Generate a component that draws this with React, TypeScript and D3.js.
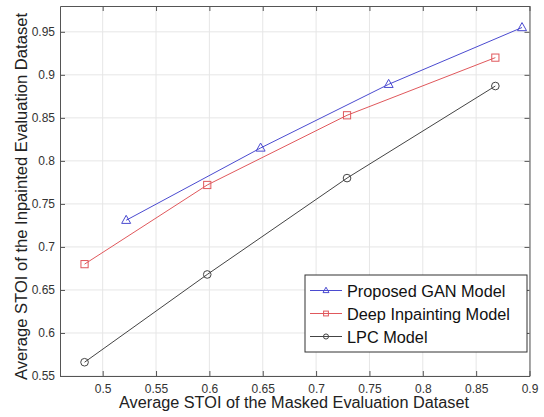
import React, { useEffect, useRef } from "react";
import * as d3 from "d3";

const seriesNames = ["Proposed GAN Model", "Deep Inpainting Model", "LPC Model"];
const seriesColors = ["#4b4bd0", "#e0585c", "#444444"];
const seriesMarkers = ["triangle", "square", "circle"];

const ganX = [0.522, 0.648, 0.768, 0.893];
const ganY = [0.731, 0.815, 0.889, 0.955];
const deepX = [0.483, 0.598, 0.729, 0.868];
const deepY = [0.680, 0.772, 0.853, 0.920];
const lpcX = [0.483, 0.598, 0.729, 0.868];
const lpcY = [0.566, 0.668, 0.780, 0.887];

const xTicks = [0.5, 0.55, 0.6, 0.65, 0.7, 0.75, 0.8, 0.85, 0.9];
const yTicks = [0.55, 0.6, 0.65, 0.7, 0.75, 0.8, 0.85, 0.9, 0.95];

const xLabel = "Average STOI of the Masked Evaluation Dataset";
const yLabel = "Average STOI of the Inpainted Evaluation Dataset";

const App = () => {
  const svgRef = useRef<SVGSVGElement>(null);
  const width = 544;
  const height = 417;

  useEffect(() => {
    const svg = d3.select(svgRef.current);
    svg.selectAll("*").remove();

    const left = 60, right = 529.5, top = 6, bottom = 376;
    const font = "'Liberation Sans', Arial, Helvetica, sans-serif";

    const x = d3.scaleLinear().domain([0.46, 0.9]).range([left, right]);
    const y = d3.scaleLinear().domain([0.55, 0.98]).range([bottom, top]);

    svg.append("rect")
      .attr("x", left).attr("y", top)
      .attr("width", right - left).attr("height", bottom - top)
      .attr("fill", "#fff");

    // grid
    svg.append("g")
      .selectAll("line.gx")
      .data(xTicks)
      .join("line")
      .attr("x1", d => x(d)).attr("x2", d => x(d))
      .attr("y1", top).attr("y2", bottom)
      .attr("stroke", "#e6e6e6").attr("stroke-width", 1);
    svg.append("g")
      .selectAll("line.gy")
      .data(yTicks)
      .join("line")
      .attr("x1", left).attr("x2", right)
      .attr("y1", d => y(d)).attr("y2", d => y(d))
      .attr("stroke", "#e6e6e6").attr("stroke-width", 1);

    // axes, box with inner ticks
    const fmt = (d: number) => String(d);
    svg.append("g")
      .attr("transform", `translate(0,${bottom})`)
      .call(d3.axisBottom(x).tickValues(xTicks).tickFormat(fmt as any).tickSizeInner(-5).tickSizeOuter(0).tickPadding(8))
      .call(g => g.select(".domain").attr("stroke", "#555"))
      .call(g => g.selectAll(".tick line").attr("stroke", "#555"))
      .call(g => g.selectAll("text").attr("fill", "#333").style("font", `12px ${font}`));
    svg.append("g")
      .attr("transform", `translate(0,${top})`)
      .call(d3.axisTop(x).tickValues(xTicks).tickFormat(() => "").tickSizeInner(-5).tickSizeOuter(0))
      .call(g => g.select(".domain").attr("stroke", "#555"))
      .call(g => g.selectAll(".tick line").attr("stroke", "#555"));
    svg.append("g")
      .attr("transform", `translate(${left},0)`)
      .call(d3.axisLeft(y).tickValues(yTicks).tickFormat(fmt as any).tickSizeInner(-5).tickSizeOuter(0).tickPadding(5))
      .call(g => g.select(".domain").attr("stroke", "#555"))
      .call(g => g.selectAll(".tick line").attr("stroke", "#555"))
      .call(g => g.selectAll("text").attr("fill", "#333").style("font", `12px ${font}`));
    svg.append("g")
      .attr("transform", `translate(${right},0)`)
      .call(d3.axisRight(y).tickValues(yTicks).tickFormat(() => "").tickSizeInner(-5).tickSizeOuter(0))
      .call(g => g.select(".domain").attr("stroke", "#555"))
      .call(g => g.selectAll(".tick line").attr("stroke", "#555"));

    // axis labels
    svg.append("text")
      .attr("x", 294).attr("y", 408)
      .attr("text-anchor", "middle")
      .attr("fill", "#222")
      .attr("textLength", 350)
      .attr("lengthAdjust", "spacingAndGlyphs")
      .style("font", `16px ${font}`)
      .text(xLabel);
    svg.append("text")
      .attr("transform", `translate(27,196.5) rotate(-90)`)
      .attr("text-anchor", "middle")
      .attr("fill", "#222")
      .attr("textLength", 367)
      .attr("lengthAdjust", "spacingAndGlyphs")
      .style("font", `16.5px ${font}`)
      .text(yLabel);

    const series = [
      { xs: ganX, ys: ganY },
      { xs: deepX, ys: deepY },
      { xs: lpcX, ys: lpcY },
    ];

    const drawMarker = (g: any, kind: string, cx: number, cy: number, color: string, s: number) => {
      if (kind === "triangle") {
        g.append("path")
          .attr("d", `M${cx},${cy - s * 1.1}L${cx + s},${cy + s * 0.7}L${cx - s},${cy + s * 0.7}Z`)
          .attr("fill", "none").attr("stroke", color).attr("stroke-width", 1);
      } else if (kind === "square") {
        g.append("rect")
          .attr("x", cx - s * 0.8).attr("y", cy - s * 0.8)
          .attr("width", s * 1.6).attr("height", s * 1.6)
          .attr("fill", "none").attr("stroke", color).attr("stroke-width", 1);
      } else {
        g.append("circle")
          .attr("cx", cx).attr("cy", cy).attr("r", s * 0.85)
          .attr("fill", "none").attr("stroke", color).attr("stroke-width", 1);
      }
    };

    const line = d3.line<[number, number]>().x(d => x(d[0])).y(d => y(d[1]));
    const plot = svg.append("g");
    series.forEach((s, i) => {
      const pts = s.xs.map((v, k) => [v, s.ys[k]] as [number, number]);
      plot.append("path")
        .attr("d", line(pts))
        .attr("fill", "none")
        .attr("stroke", seriesColors[i])
        .attr("stroke-width", 1);
      pts.forEach(p => drawMarker(plot, seriesMarkers[i], x(p[0]), y(p[1]), seriesColors[i], 4.5));
    });

    // legend
    const lx = 305, ly = 275, lw = 222, lh = 77;
    const lg = svg.append("g");
    lg.append("rect")
      .attr("x", lx).attr("y", ly).attr("width", lw).attr("height", lh)
      .attr("fill", "#fff").attr("stroke", "#333").attr("stroke-width", 1);
    seriesNames.forEach((name, i) => {
      const cy = ly + 15.5 + i * 23;
      lg.append("line")
        .attr("x1", lx + 5).attr("x2", lx + 37)
        .attr("y1", cy).attr("y2", cy)
        .attr("stroke", seriesColors[i]).attr("stroke-width", 1);
      drawMarker(lg, seriesMarkers[i], lx + 21, cy, seriesColors[i], 3);
      lg.append("text")
        .attr("x", lx + 42).attr("y", cy + 6)
        .attr("fill", "#111")
        .style("font", `16.3px ${font}`)
        .text(name);
    });
  }, []);

  return (
    <svg
      ref={svgRef}
      width={width}
      height={height}
      viewBox={`0 0 ${width} ${height}`}
      style={{ position: "absolute", left: 0, top: 0, background: "#fff" }}
    ></svg>
  );
};

export default App;
